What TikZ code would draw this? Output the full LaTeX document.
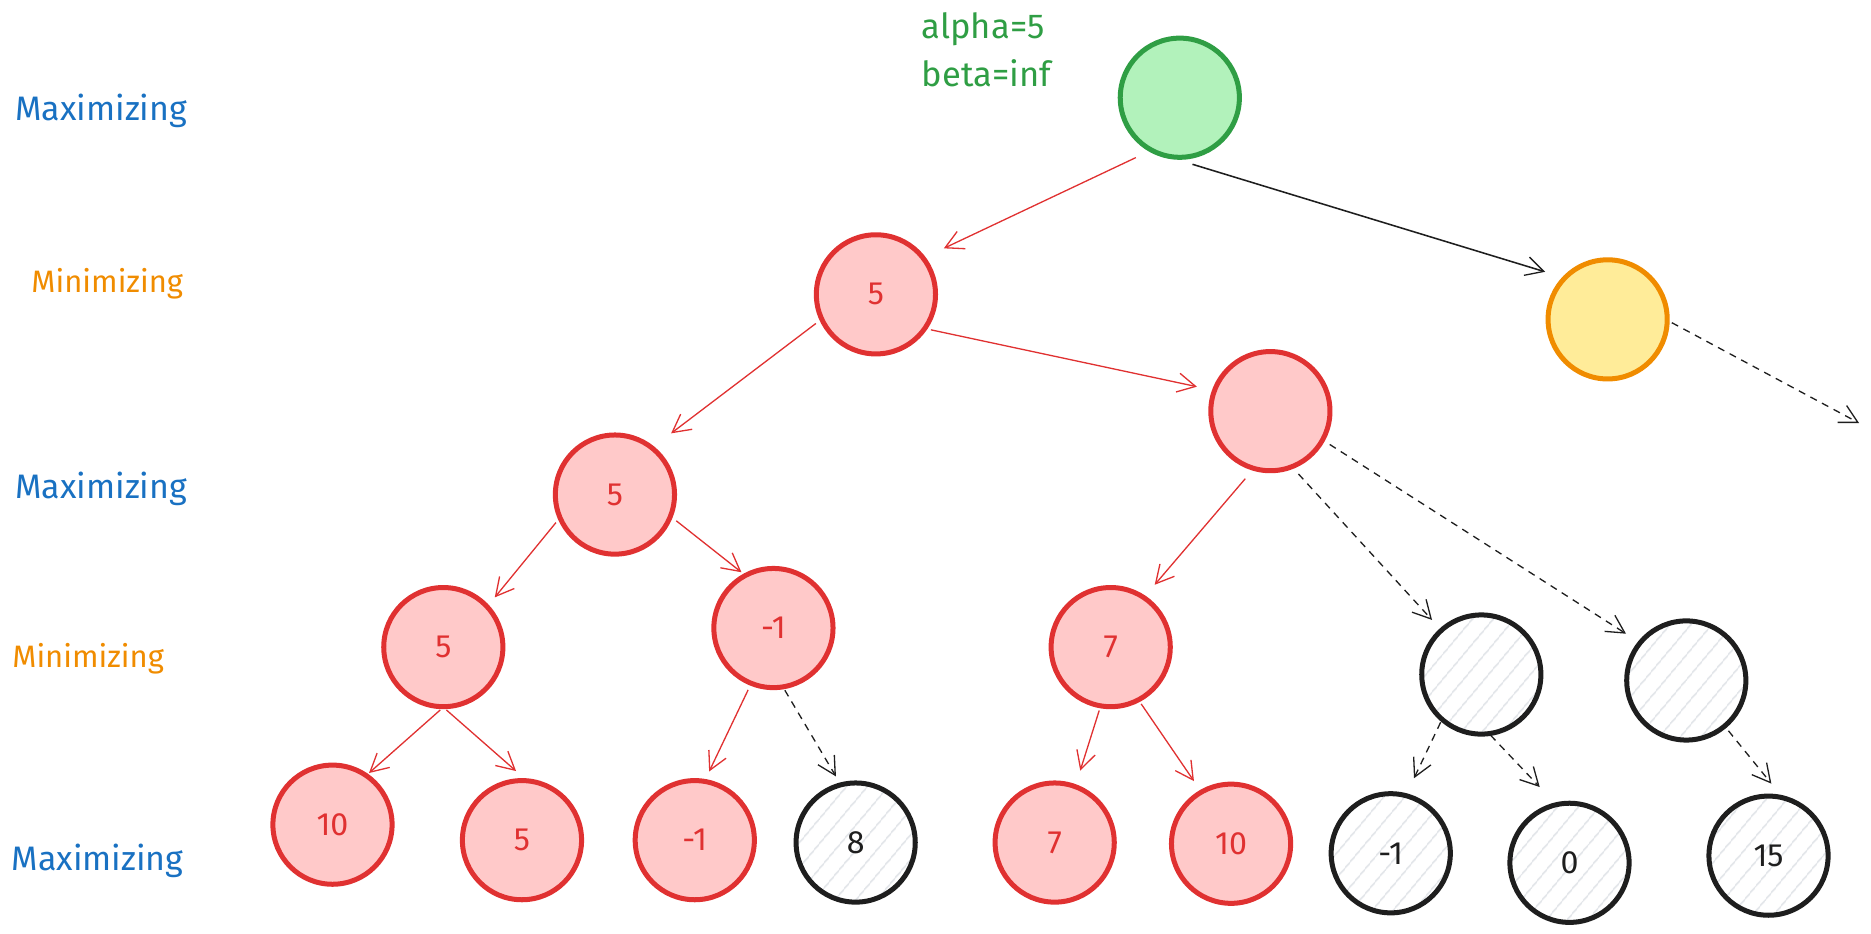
\documentclass[tikz,border=0pt]{standalone}
\usepackage{fontspec}
\setmainfont{Fira Sans}
\usetikzlibrary{arrows.meta,patterns.meta}
\definecolor{redS}{HTML}{E03131}
\definecolor{redF}{HTML}{FFC9C9}
\definecolor{greenS}{HTML}{2F9E44}
\definecolor{greenF}{HTML}{B2F2BB}
\definecolor{yelS}{HTML}{F08C00}
\definecolor{yelF}{HTML}{FFEC99}
\definecolor{blackS}{HTML}{1E1E1E}
\definecolor{hatchC}{HTML}{E3E6EA}
\definecolor{blueT}{HTML}{1971C2}
\definecolor{orangeT}{HTML}{F08C00}
\begin{document}
\begin{tikzpicture}[x=1pt,y=-1pt,
  nd/.style={circle, minimum size=100pt, inner sep=0pt, line width=4.2pt,
    font=\fontsize{27}{30}\selectfont},
  rednd/.style={nd, draw=redS, fill=redF, text=redS},
  greennd/.style={nd, draw=greenS, fill=greenF},
  yelnd/.style={nd, draw=yelS, fill=yelF},
  hatnd/.style={nd, draw=blackS, pattern={Lines[angle=50,distance=13pt,line width=1.4pt]},
    pattern color=hatchC, text=blackS},
  maxlbl/.style={font=\fontsize{28.5}{32}\selectfont, text=blueT},
  minlbl/.style={font=\fontsize{26}{30}\selectfont, text=orangeT},
  tipb/.style={-{Straight Barb[length=15pt,width=16pt,line width=1.1pt]}},
  redarr/.style={draw=redS, line width=1.1pt, tipb},
  blkarr/.style={draw=blackS, line width=1.3pt, tipb},
  dasharr/.style={draw=blackS, line width=1.1pt, dash pattern=on 6pt off 5pt, tipb},
]
\useasboundingbox (0,0) rectangle (1570,783.7);

% level labels
\node[maxlbl] (lab0) at (85,93) {Maximizing};
\node[minlbl] (lab1) at (90,238) {Minimizing};
\node[maxlbl] (lab2) at (85,410) {Maximizing};
\node[minlbl] (lab3) at (74,553) {Minimizing};
\node[maxlbl] (lab4) at (82,722) {Maximizing};

% alpha / beta
\node[anchor=west, align=left, text=greenS, font=\fontsize{29}{40}\selectfont]
  (ab) at (770,42) {alpha=5\\beta=inf};

% nodes
\node[greennd] (root) at (990,82) {};
\node[rednd] (n1) at (735,247) {5};
\node[yelnd] (y1) at (1349,268) {};
\node[rednd] (n2a) at (516,415) {5};
\node[rednd] (n2b) at (1066,345) {};
\node[rednd] (n3a) at (372,543) {5};
\node[rednd] (n3b) at (649,527) {-1};
\node[rednd] (n3c) at (932,543) {7};
\node[hatnd] (h1) at (1243,566) {};
\node[hatnd] (h2) at (1415,571) {};
\node[rednd] (l1) at (279,692) {10};
\node[rednd] (l2) at (438,705) {5};
\node[rednd] (l3) at (583,705) {-1};
\node[hatnd] (l4) at (718,707) {8};
\node[rednd] (l5) at (885,707) {7};
\node[rednd] (l6) at (1033,708) {10};
\node[hatnd] (l7) at (1167,716) {-1};
\node[hatnd] (l8) at (1317,724) {0};
\node[hatnd] (l9) at (1484,718) {15};

\coordinate (offr) at (1560,355);

% connectors
\draw[redarr, shorten <=12pt, shorten >=17pt] (root.240) -- (n1.37);
\draw[blkarr, shorten <=13pt, shorten >=15pt] (root.268) -- (y1.137);
\draw[dasharr, shorten <=2pt] (y1.358) -- (offr);
\draw[redarr, shorten <=4pt, shorten >=18pt] (n1.205) -- (n2a.51);
\draw[redarr, shorten <=3pt, shorten >=13pt] (n1.326) -- (n2b.160);
\draw[redarr, shorten <=3pt, shorten >=8pt] (n2a.204) -- (n3a.43);
\draw[redarr, shorten <=4pt, shorten >=2pt] (n2a.338) -- (n3b.119);
\draw[redarr, shorten <=9pt, shorten >=12pt] (n2b.253) -- (n3c.56);
\draw[dasharr, shorten <=6pt, shorten >=11pt] (n2b.292) -- (h1.132);
\draw[dasharr, shorten <=5pt, shorten >=12pt] (n2b.331) -- (h2.141);
\draw[redarr, shorten <=1pt, shorten >=1pt] (n3a.268) -- (l1.55);
\draw[redarr, shorten <=1pt, shorten >=9pt] (n3a.272) -- (l2.88);
\draw[redarr, shorten <=4pt, shorten >=7pt] (n3b.248) -- (l3.80);
\draw[dasharr, shorten <=1pt, shorten >=6pt] (n3b.280) -- (l4.105);
\draw[redarr, shorten <=2pt, shorten >=12pt] (n3c.260) -- (l5.70);
\draw[redarr, shorten <=2pt, shorten >=9pt] (n3c.298) -- (l6.120);
\draw[dasharr, shorten <=2pt, shorten >=14pt] (h1.229) -- (l7.75);
\draw[dasharr, shorten <=1pt, shorten >=18pt] (h1.278) -- (l8.104);
\draw[dasharr, shorten <=3pt, shorten >=12pt] (h2.310) -- (l9.79);
\end{tikzpicture}
\end{document}
